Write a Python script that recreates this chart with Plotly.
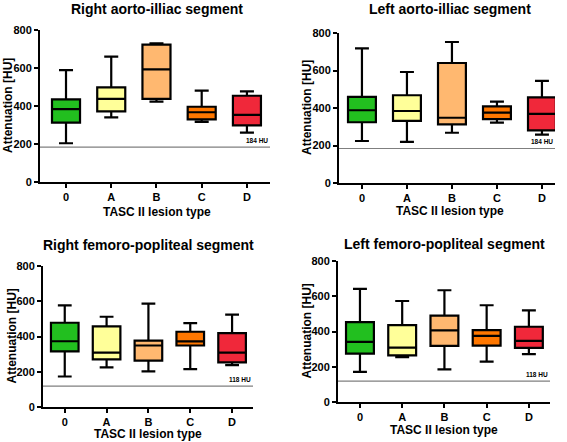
import plotly.graph_objects as go

W, H = 567, 442

categories = ["0", "A", "B", "C", "D"]
colors = ["#22bf1f", "#ffff99", "#ffb870", "#ff7700", "#f0283a"]

titles = ["Right aorto-illiac segment", "Left aorto-illiac segment",
          "Right femoro-popliteal segment", "Left femoro-popliteal segment"]
ref_values = [184, 184, 118, 118]
ref_labels = ["184 HU", "184 HU", "118 HU", "118 HU"]
y_ticks = [0, 200, 400, 600, 800]

# Right aorto-iliac
ra_min = [204, 340, 423, 316, 260]
ra_q1 = [312, 372, 437, 330, 298]
ra_med = [384, 437, 593, 367, 353]
ra_q3 = [435, 498, 723, 396, 454]
ra_max = [589, 660, 730, 481, 477]

# Left aorto-iliac
la_min = [224, 219, 268, 322, 258]
la_q1 = [324, 331, 313, 341, 281]
la_med = [388, 384, 348, 375, 369]
la_q3 = [459, 468, 640, 409, 457]
la_max = [718, 592, 752, 434, 545]

# Right femoro-popliteal
rf_min = [173, 225, 202, 215, 238]
rf_q1 = [316, 270, 263, 349, 253]
rf_med = [373, 309, 349, 372, 309]
rf_q3 = [478, 457, 377, 427, 419]
rf_max = [577, 512, 587, 476, 524]

# Left femoro-popliteal
lf_min = [171, 255, 185, 229, 272]
lf_q1 = [274, 265, 318, 320, 307]
lf_med = [341, 309, 406, 375, 347]
lf_q3 = [453, 436, 490, 408, 427]
lf_max = [642, 573, 634, 549, 520]

panels = [
    (ra_min, ra_q1, ra_med, ra_q3, ra_max),
    (la_min, la_q1, la_med, la_q3, la_max),
    (rf_min, rf_q1, rf_med, rf_q3, rf_max),
    (lf_min, lf_q1, lf_med, lf_q3, lf_max),
]

# layout geometry in pixels: (left, right, top(800), bottom(0)), x range, box width,
# title centre x, title y, x-title y
geo = [
    (40, 270, 30, 182, [-0.575, 4.51], 0.62, 157, 9, 212),
    (339, 555, 33, 183, [-0.51, 4.29], 0.62, 450, 9, 211),
    (43, 253, 266, 407, [-0.52, 4.5], 0.66, 148, 245, 434),
    (338, 550, 261, 402, [-0.52, 4.5], 0.66, 444, 244, 430),
]

def px(x):
    return x / W

def py(y):
    return 1 - y / H

fig = go.Figure()
annotations = []
shapes = []
FONT = "Liberation Sans"

for i, (data, g) in enumerate(zip(panels, geo)):
    mn, q1, med, q3, mx = data
    l, r, t, b, xr, bw, tx, ty, xty = g
    n = "" if i == 0 else str(i + 1)
    xa, ya = "x" + n, "y" + n
    for j, cat in enumerate(categories):
        fig.add_trace(go.Box(
            x=[cat], q1=[q1[j]], median=[med[j]], q3=[q3[j]],
            lowerfence=[mn[j]], upperfence=[mx[j]],
            fillcolor=colors[j], line=dict(color="black", width=2.2),
            whiskerwidth=0.5, width=bw, showlegend=False,
            xaxis=xa, yaxis=ya, hoverinfo="skip"))
    axis_common = dict(showline=True, linecolor="black", linewidth=2,
                       ticks="outside", ticklen=4, tickwidth=2, tickcolor="black",
                       showgrid=False, zeroline=False, automargin=False,
                       tickfont=dict(family=FONT, size=11, color="black", weight="bold"))
    fig.layout["xaxis" + n] = dict(axis_common, domain=[px(l), px(r)], anchor=ya,
                                   type="category", categoryorder="array",
                                   categoryarray=categories, range=xr)
    fig.layout["yaxis" + n] = dict(axis_common, domain=[py(b), py(t)], anchor=xa,
                                   range=[0, 800], tickvals=y_ticks)
    shapes.append(dict(type="line", xref=xa + " domain", yref=ya, x0=0, x1=1,
                       y0=ref_values[i], y1=ref_values[i],
                       line=dict(color="#7f7f7f", width=1.2), layer="below"))
    annotations.append(dict(xref=xa + " domain", yref=ya, x=1, y=ref_values[i],
                            xanchor="right", yanchor="bottom", yshift=1,
                            text=ref_labels[i], showarrow=False,
                            font=dict(family=FONT, size=6.5, color="black", weight="bold")))
    annotations.append(dict(xref="paper", yref="paper", x=px(tx), y=py(ty),
                            xanchor="center", yanchor="middle", text=titles[i],
                            showarrow=False,
                            font=dict(family=FONT, size=14, color="black", weight="bold")))
    annotations.append(dict(xref="paper", yref="paper", x=px(tx), y=py(xty),
                            xanchor="center", yanchor="middle", text="TASC II lesion type",
                            showarrow=False,
                            font=dict(family=FONT, size=12, color="black", weight="bold")))
    annotations.append(dict(xref="paper", yref="paper", x=px(l - 32), y=py((t + b) / 2),
                            xanchor="center", yanchor="middle", text="Attenuation [HU]",
                            textangle=-90, showarrow=False,
                            font=dict(family=FONT, size=12, color="black", weight="bold")))

fig.update_layout(width=W, height=H,
                  margin=dict(l=0, r=0, t=0, b=0, pad=0, autoexpand=False),
                  paper_bgcolor="white", plot_bgcolor="white",
                  boxmode="overlay", annotations=annotations, shapes=shapes)

fig.write_html("out.html", config={"displayModeBar": False},
               post_script="document.body.style.margin='0';document.body.style.padding='0';")
